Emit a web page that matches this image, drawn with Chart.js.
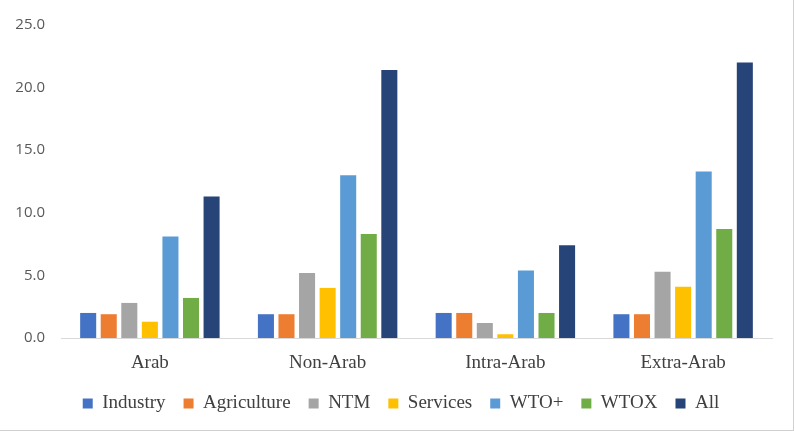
<!DOCTYPE html>
<html>
<head>
<meta charset="utf-8">
<script src="https://cdn.jsdelivr.net/npm/chart.js@4"></script>
<style>
  html, body { margin: 0; padding: 0; background: #fff; }
  #wrap { width: 794px; height: 431px; box-sizing: border-box; border-right: 1px solid #d0d0d0; border-bottom: 1px solid #d0d0d0; }
</style>
</head>
<body>
<div id="wrap"><canvas id="grafico" width="793" height="430"></canvas></div>
<script>
// Dados
const categorias = ["Arab", "Non-Arab", "Intra-Arab", "Extra-Arab"];
const series = ["Industry", "Agriculture", "NTM", "Services", "WTO+", "WTOX", "All"];
const industry    = [2.0, 1.9, 2.0, 1.9];
const agriculture = [1.9, 1.9, 2.0, 1.9];
const ntm         = [2.8, 5.2, 1.2, 5.3];
const services    = [1.3, 4.0, 0.3, 4.1];
const wtoPlus     = [8.1, 13.0, 5.4, 13.3];
const wtox        = [3.2, 8.3, 2.0, 8.7];
const all         = [11.3, 21.4, 7.4, 22.0];
const yTicks      = [0, 5, 10, 15, 20, 25];

const cores = ["#4472C4", "#ED7D31", "#A5A5A5", "#FFC000", "#5B9BD5", "#70AD47", "#264478"];
const valores = [industry, agriculture, ntm, services, wtoPlus, wtox, all];

const datasets = series.map((nome, i) => ({
  label: nome,
  data: valores[i],
  backgroundColor: cores[i],
  borderWidth: 0,
  categoryPercentage: 0.81,
  barPercentage: 0.78
}));

// centraliza a legenda sob a área do gráfico
const legendaCentro = {
  id: "legendaCentro",
  afterLayout(chart) {
    if (chart.legend) chart.legend.left = 30;
  }
};

const ctx = document.getElementById("grafico").getContext("2d");
new Chart(ctx, {
  type: "bar",
  data: { labels: categorias, datasets: datasets },
  plugins: [legendaCentro],
  options: {
    responsive: false,
    animation: false,
    layout: { padding: { top: 10, right: 21, bottom: 7, left: 0 } },
    plugins: {
      tooltip: { enabled: false },
      legend: {
        position: "bottom",
        labels: {
          boxWidth: 10,
          boxHeight: 10,
          padding: 18,
          color: "#404040",
          font: { family: "Liberation Serif", size: 19 }
        }
      }
    },
    scales: {
      x: {
        afterFit: scale => { scale.height = 38; },
        grid: { display: false },
        border: { color: "#d9d9d9", width: 1 },
        ticks: { color: "#404040", padding: 6, font: { family: "Liberation Serif", size: 19 } }
      },
      y: {
        min: 0,
        max: 25,
        afterFit: scale => { scale.width = 61; },
        afterBuildTicks: scale => { scale.ticks = yTicks.map(v => ({ value: v })); },
        grid: { display: false, drawTicks: false },
        border: { display: false },
        ticks: {
          color: "#595959",
          padding: 16,
          font: { family: "Open Sans", size: 15 },
          callback: v => v.toFixed(1)
        }
      }
    }
  }
});
</script>
</body>
</html>
